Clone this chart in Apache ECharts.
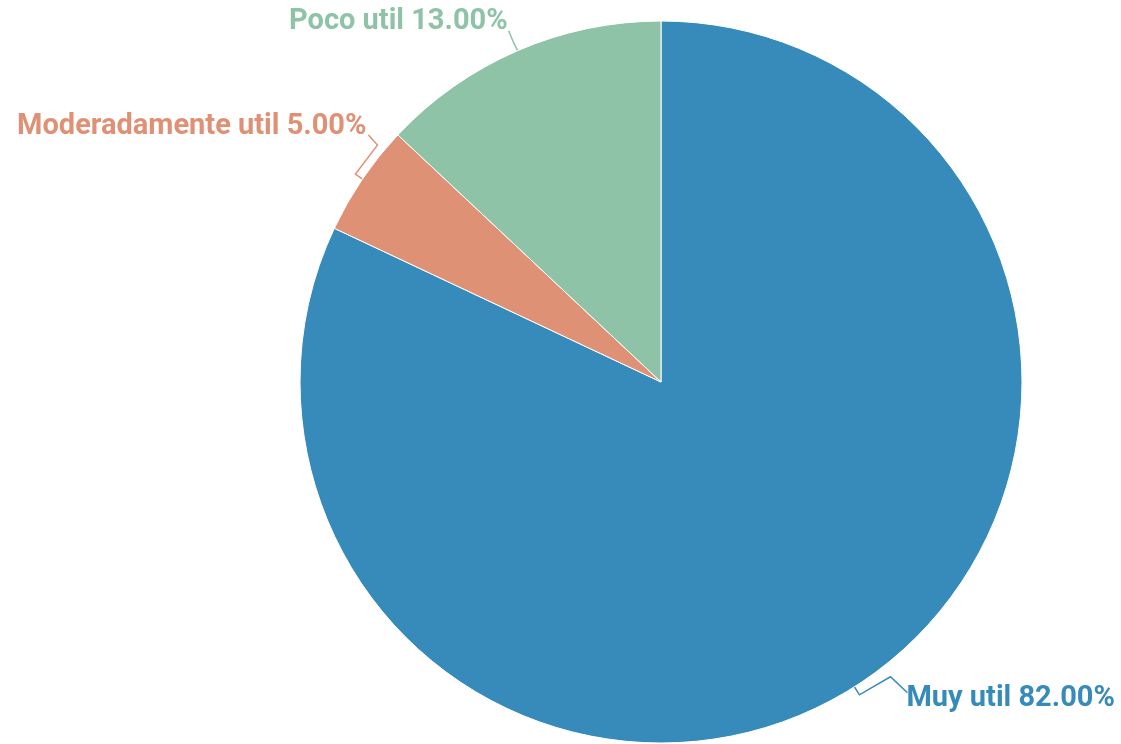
<!DOCTYPE html>
<html>
<head>
<meta charset="utf-8">
<script src="https://cdn.jsdelivr.net/npm/echarts@6/dist/echarts.min.js"></script>
<style>
  html, body { margin: 0; padding: 0; background: #ffffff; }
  #chart { width: 1121px; height: 744px; }
</style>
</head>
<body>
<div id="chart"></div>
<script>
// Usefulness rating shares (percent)
const categories = ['Muy util', 'Moderadamente util', 'Poco util'];
const shares = [82, 5, 13];
const sliceColors = ['#378bba', '#df9175', '#8ec3a7'];

// Connector shape for each label, as offsets from the slice's edge anchor:
// line = bend points after the anchor, text = label position, align = text alignment
const labelGeometry = [
  { line: [[5, 8], [36, -10], [53, 6]],  text: [52, 12],  align: 'left'  },
  { line: [[-7, -5], [15, -34], [6, -44]], text: [4, -52], align: 'right' },
  { line: [[-4, -8], [-9, -20]],          text: [-10, -29], align: 'right' }
];

const chart = echarts.init(document.getElementById('chart'));

chart.setOption({
  animation: false,
  series: [{
    type: 'pie',
    center: [661, 382],
    radius: 361,
    startAngle: 90,
    clockwise: true,
    avoidLabelOverlap: false,
    itemStyle: { borderColor: '#ffffff', borderWidth: 1 },
    label: {
      show: true,
      position: 'outside',
      fontFamily: 'Roboto',
      fontWeight: 'bold',
      fontSize: 29,
      formatter: p => p.name + ' ' + p.value.toFixed(2) + '%'
    },
    labelLine: {
      show: true,
      length: 18,
      length2: 12,
      lineStyle: { width: 1.5 }
    },
    labelLayout: function (params) {
      const g = labelGeometry[params.dataIndex];
      const a = params.labelLinePoints[0];
      const pts = [[a[0], a[1]]].concat(g.line.map(d => [a[0] + d[0], a[1] + d[1]]));
      return {
        x: a[0] + g.text[0],
        y: a[1] + g.text[1],
        align: g.align,
        verticalAlign: 'middle',
        labelLinePoints: pts
      };
    },
    data: categories.map((name, i) => ({
      name,
      value: shares[i],
      itemStyle: { color: sliceColors[i] },
      label: { color: sliceColors[i] },
      labelLine: { lineStyle: { color: sliceColors[i] } }
    }))
  }]
});
</script>
</body>
</html>
